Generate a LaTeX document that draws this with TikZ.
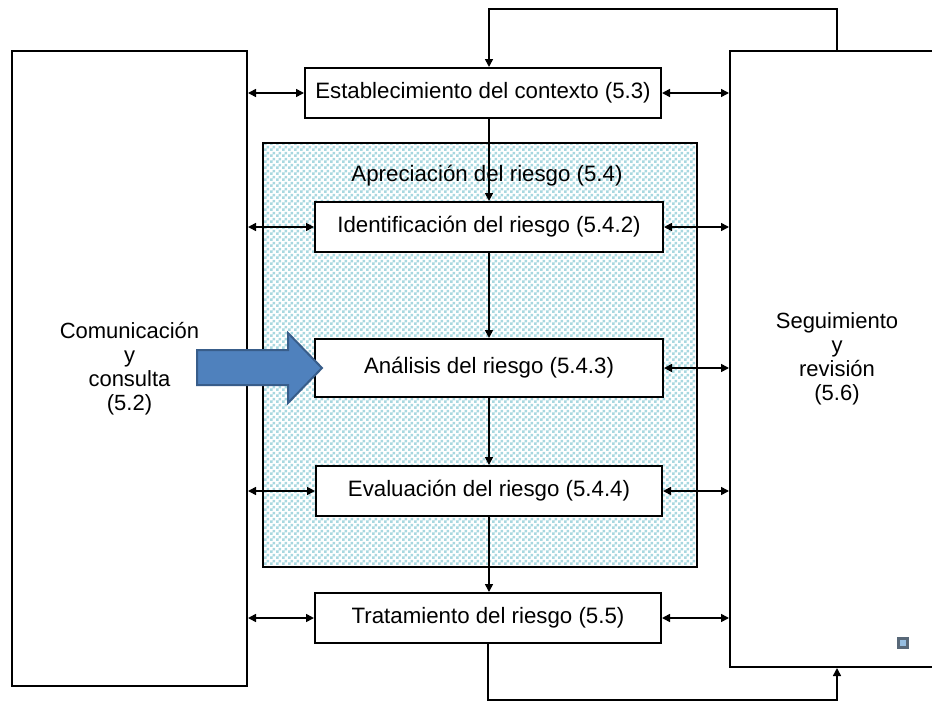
\documentclass[tikz,border=0pt]{standalone}
\usepackage{fontspec}
\setmainfont{Liberation Sans}
\usetikzlibrary{arrows.meta,patterns}
\pgfdeclarepatternformonly{fchecker}{\pgfpointorigin}{\pgfpoint{4.5pt}{4.5pt}}{\pgfpoint{4.5pt}{4.5pt}}{%
  \pgfpathrectangle{\pgfpointorigin}{\pgfpoint{2.25pt}{2.25pt}}%
  \pgfpathrectangle{\pgfpoint{2.25pt}{2.25pt}}{\pgfpoint{2.25pt}{2.25pt}}%
  \pgfusepath{fill}}
\definecolor{hatchc}{RGB}{168,216,224}
\definecolor{arrfill}{RGB}{79,129,189}
\definecolor{arrline}{RGB}{56,93,138}
\definecolor{sqline}{RGB}{88,104,120}
\definecolor{sqfill}{RGB}{150,190,225}
\begin{document}
\begin{tikzpicture}[x=0.75pt,y=-0.75pt,
  box/.style={draw,line width=1.5pt,fill=white,inner sep=0pt,font=\fontsize{16.7}{18}\selectfont},
  big/.style={draw,line width=1.5pt,fill=white,inner sep=0pt,align=center,font=\fontsize{16.5}{18}\selectfont},
  conn/.style={line width=1.2pt},
  tipd/.style={conn,-{Triangle[length=6pt,width=6pt]}},
  dbl/.style={conn,{Triangle[length=6pt,width=6pt]}-{Triangle[length=6pt,width=6pt]}}]
\fill[white] (0,0) rectangle (932,703);
\useasboundingbox (0,0) rectangle (932,703);

% big side boxes
\node[big,minimum width=176.25pt,minimum height=476.25pt] (lbox) at (129.5,368.5)
  {Comunicación\\y\\consulta\\(5.2)};
\node[big,minimum width=160.5pt,minimum height=462pt] (rbox) at (837,359)
  {Seguimiento\\y\\revisión\\(5.6)};

% risk assessment area
\node[draw,line width=1.5pt,pattern=fchecker,pattern color=hatchc,inner sep=0pt,
  minimum width=325.5pt,minimum height=318pt] (apr) at (480,355) {};
\node[font=\fontsize{16.7}{18}\selectfont] (aprl) at (487,176) {Apreciación del riesgo (5.4)};

% process boxes
\node[box,minimum width=267pt,minimum height=37.5pt] (estab) at (483,93) {Establecimiento del contexto (5.3)};
\node[box,minimum width=261pt,minimum height=37.5pt] (ident) at (489,227) {Identificación del riesgo (5.4.2)};
\node[box,minimum width=261pt,minimum height=43.5pt] (anal) at (489,368) {Análisis del riesgo (5.4.3)};
\node[box,minimum width=259.5pt,minimum height=37.5pt] (eval) at (489,491) {Evaluación del riesgo (5.4.4)};
\node[box,minimum width=259.5pt,minimum height=37.5pt] (trat) at (488,618) {Tratamiento del riesgo (5.5)};

% vertical flow
\draw[tipd] (ident.north |- estab.south) -- (ident.north);
\draw[tipd] (ident.south) -- (ident.south |- anal.north);
\draw[tipd] (anal.south) -- (anal.south |- eval.north);
\draw[tipd] (eval.south) -- (eval.south |- trat.north);

% feedback loops
\coordinate (ctop) at (700,9);
\coordinate (cbot) at (700,700);
\draw[tipd] (rbox.north) |- (ctop) -| (ident.north |- estab.north);
\draw[tipd] (trat.south) |- (cbot) -| (rbox.south);

% side double arrows
\draw[dbl] (lbox.east |- estab.west) -- (estab.west);
\draw[dbl] (estab.east) -- (rbox.west |- estab.east);
\draw[dbl] (lbox.east |- ident.west) -- (ident.west);
\draw[dbl] (ident.east) -- (rbox.west |- ident.east);
\draw[dbl] (anal.east) -- (rbox.west |- anal.east);
\draw[dbl] (lbox.east |- eval.west) -- (eval.west);
\draw[dbl] (eval.east) -- (rbox.west |- eval.east);
\draw[dbl] (lbox.east |- trat.west) -- (trat.west);
\draw[dbl] (trat.east) -- (rbox.west |- trat.east);

% blue block arrow
\draw[fill=arrfill,draw=arrline,line width=1.5pt,line join=miter]
  (197,350) -- (288,350) -- (288,333) -- (322,368) -- (288,403) -- (288,385) -- (197,385) -- cycle;

% small square marker
\node[draw=sqline,fill=sqfill,line width=2.6pt,minimum size=6.4pt,inner sep=0pt] (sq) at (903,643) {};
\end{tikzpicture}
\end{document}
